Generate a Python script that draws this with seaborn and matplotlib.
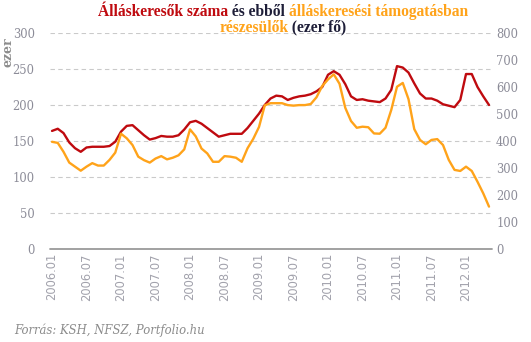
import matplotlib
matplotlib.use("Agg")
import matplotlib.pyplot as plt
import pandas as pd
import seaborn as sns

# Monthly series, 2006.01 - 2012.05
months = pd.period_range("2006-01", "2012-05", freq="M")
month_labels = [f"{p.year}.{p.month:02d}" for p in months]

# Registered job seekers (thousand people, left axis)
allaskeresok = [
    164, 167, 161, 148, 140, 135, 141, 142, 142, 142, 143, 149,
    163, 171, 172, 165, 158, 152, 154, 157, 156, 156, 158, 166,
    176, 178, 174, 168, 162, 156, 158, 160, 160, 160, 168, 178,
    188, 200, 209, 213, 212, 207, 210, 212, 213, 215, 219, 225,
    242, 247, 242, 229, 212, 207, 208, 206, 205, 204, 209, 221,
    254, 252, 245, 230, 216, 209, 209, 206, 201, 199, 197, 207,
    243, 243, 225, 212, 200,
]

# Of whom receiving job-seeker benefits (thousand people, right axis)
tamogatott = [
    397, 393, 360, 320, 305, 290, 305, 318, 309, 309, 330, 357,
    427, 410, 385, 342, 329, 320, 335, 344, 332, 338, 347, 369,
    443, 417, 372, 354, 323, 323, 344, 342, 338, 323, 373, 408,
    452, 532, 540, 540, 540, 533, 531, 533, 533, 537, 562, 604,
    628, 647, 612, 523, 474, 449, 453, 451, 428, 427, 449, 515,
    601, 615, 555, 444, 404, 388, 404, 407, 385, 330, 293, 289,
    305, 289, 249, 206, 157,
]

left_ticks = [0, 50, 100, 150, 200, 250, 300]
right_ticks = [0, 100, 200, 300, 400, 500, 600, 700, 800]

RED = "#BF0A0F"
ORANGE = "#FFA31A"
DARK = "#1E1E38"
TICK_GRAY = "#8C8C98"

W, H = 531, 342

sns.set_theme(style="white")
plt.rcParams["font.family"] = ["DejaVu Serif"]

df = pd.DataFrame({
    "idx": range(len(month_labels)),
    "allaskeresok": allaskeresok,
    "tamogatott": tamogatott,
})

fig = plt.figure(figsize=(W / 100, H / 100), dpi=100)
fig.patch.set_facecolor("white")
ax = fig.add_axes([50 / W, 1 - 249 / H, 442 / W, 216 / H])
ax2 = ax.twinx()

sns.lineplot(data=df, x="idx", y="allaskeresok", ax=ax, color=RED,
             linewidth=1.7, legend=False)
sns.lineplot(data=df, x="idx", y="tamogatott", ax=ax2, color=ORANGE,
             linewidth=1.7, legend=False)

n = len(month_labels)
ax.set_xlim(-0.35, n - 1 + 0.52)
ax.set_ylim(0, 300)
ax2.set_ylim(0, 800)

# dashed horizontal grid following the left axis
for v in left_ticks[1:]:
    ax.axhline(v, color="#CACACA", linewidth=0.8, linestyle=(0, (4, 3)), zorder=0)
ax.axhline(0, color="#9A9A9A", linewidth=1.3, zorder=1, clip_on=False)

for a in (ax, ax2):
    for s in a.spines.values():
        s.set_visible(False)
    a.set_xlabel("")
    a.set_ylabel("")
    a.grid(False)

xt = list(range(0, n, 6))
ax.set_xticks(xt)
ax.set_xticklabels([month_labels[i] for i in xt], rotation=90,
                   fontsize=8.3, color="#A2A2AC", family="DejaVu Sans")
ax.tick_params(axis="x", length=0, pad=3)

ax.set_yticks(left_ticks)
ax.set_yticklabels([str(v) for v in left_ticks], fontsize=8.3, color=TICK_GRAY)
ax.tick_params(axis="y", length=0, pad=11)

ax2.set_yticks(right_ticks)
ax2.set_yticklabels([str(v) for v in right_ticks], fontsize=8.3, color=TICK_GRAY)
ax2.tick_params(axis="y", length=0, pad=3)

fig.text(8 / W, 1 - 37 / H, "ezer", rotation=90, va="top", ha="center",
         fontsize=9, fontweight="bold", color="#8C8C8C")

# two-line title with coloured segments, centred
renderer = fig.canvas.get_renderer()


def colored_line(parts, y_px, cx_px, size):
    texts = []
    for s, c in parts:
        t = fig.text(0, 1 - y_px / H, s, color=c, fontsize=size,
                     fontweight="bold", family="Liberation Serif",
                     va="baseline", ha="left")
        texts.append(t)
    widths = [t.get_window_extent(renderer).width for t in texts]
    x = cx_px - sum(widths) / 2
    for t, w in zip(texts, widths):
        t.set_x(x / W)
        x += w


colored_line([("Álláskeresők száma", RED), (" és ebből ", DARK),
              ("álláskeresési támogatásban", ORANGE)], 15.5, 283, 11.2)
colored_line([("részesülők", ORANGE), (" (ezer fő)", DARK)], 31.5, 283, 11.2)

fig.text(14 / W, 1 - 330 / H, "Forrás: KSH, NFSZ, Portfolio.hu",
         style="italic", fontsize=8.4, color="#8C8C8C", va="center", ha="left")

fig.savefig("out.png", dpi=100, facecolor="white")
